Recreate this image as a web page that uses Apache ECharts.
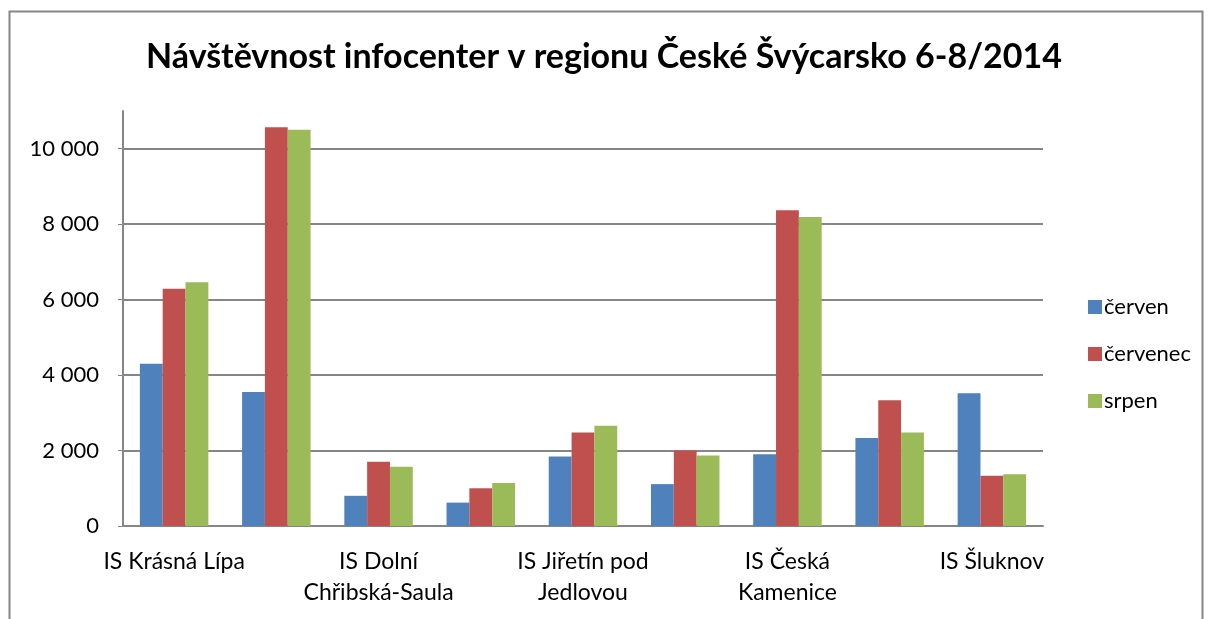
<!DOCTYPE html>
<html>
<head>
<meta charset="utf-8">
<script src="https://cdn.jsdelivr.net/npm/echarts@6/dist/echarts.min.js"></script>
<style>
  html, body { margin: 0; padding: 0; background: #fff; }
  #chart { width: 1208px; height: 619px; }
</style>
</head>
<body>
<div id="chart"></div>
<script>
// data
var categories = ['IS Krásná Lípa', 'IS Hřensko', 'IS Dolní Chřibská-Saula', 'IS Jetřichovice',
                  'IS Jiřetín pod Jedlovou', 'IS Rumburk', 'IS Česká Kamenice', 'IS Mikulášovice', 'IS Šluknov'];
var cerven   = [4300, 3550, 800, 620, 1840, 1110, 1900, 2330, 3520];
var cervenec = [6290, 10570, 1700, 1000, 2480, 2000, 8370, 3330, 1330];
var srpen    = [6460, 10500, 1570, 1140, 2660, 1870, 8190, 2480, 1370];
var seriesNames = ['červen', 'červenec', 'srpen'];
var colors = ['#4F81BD', '#C0504D', '#9BBB59'];

var font = 'Lato, "Noto Sans", sans-serif';

function fmt(v) {
    return String(v).replace(/\B(?=(\d{3})+(?!\d))/g, ' ');
}

// greedy word wrap, like Excel does for long category names
function wrap(v) {
    var words = v.split(' ');
    var lines = [];
    var cur = '';
    for (var i = 0; i < words.length; i++) {
        var next = cur ? cur + ' ' + words[i] : words[i];
        if (next.length > 14 && cur) {
            lines.push(cur);
            cur = words[i];
        } else {
            cur = next;
        }
    }
    lines.push(cur);
    return lines.join('\n');
}

function getChart() {
    var values = [cerven, cervenec, srpen];
    var series = [];
    for (var i = 0; i < seriesNames.length; i++) {
        series.push({
            name: seriesNames[i],
            type: 'bar',
            data: values[i],
            barGap: '0%',
            barCategoryGap: '33%',
            itemStyle: { color: colors[i] }
        });
    }
    var option = {
        animation: false,
        color: colors,
        title: {
            text: 'Návštěvnost infocenter v regionu České Švýcarsko 6-8/2014',
            left: 'center',
            top: 35,
            textStyle: { fontFamily: font, fontSize: 34, fontWeight: 'bold', color: '#000' }
        },
        legend: {
            orient: 'vertical',
            left: 1083,
            top: 291,
            itemWidth: 14,
            itemHeight: 14,
            itemGap: 25,
            icon: 'rect',
            textStyle: { fontFamily: font, fontSize: 22, color: '#000', padding: [0, 0, 0, -3] },
            data: seriesNames
        },
        grid: { left: 123, right: 165, top: 111, bottom: 93, outerBoundsMode: 'none' },
        xAxis: {
            type: 'category',
            data: categories,
            axisLine: { lineStyle: { color: '#868686', width: 2 } },
            axisTick: { show: false },
            axisLabel: {
                interval: 1,
                margin: 20,
                lineHeight: 31,
                fontFamily: font,
                fontSize: 23,
                color: '#000',
                formatter: wrap
            }
        },
        yAxis: {
            type: 'value',
            min: 0,
            max: 11000,
            interval: 2000,
            axisLine: { show: true, lineStyle: { color: '#868686', width: 2 } },
            axisTick: { show: true, length: 5, lineStyle: { color: '#868686' } },
            axisLabel: {
                showMaxLabel: false,
                margin: 24,
                fontFamily: font,
                fontSize: 22,
                color: '#000',
                formatter: fmt
            },
            splitLine: {
                lineStyle: {
                    color: ['#868686', '#868686', '#868686', '#868686', '#868686', '#868686', 'rgba(0,0,0,0)'],
                    width: 2
                }
            }
        },
        graphic: [{
            type: 'rect',
            shape: { x: 9.5, y: 11.5, width: 1193, height: 640 },
            style: { fill: 'none', stroke: '#868686', lineWidth: 2 },
            silent: true
        }],
        series: series
    };
    return option;
}

var myChart = echarts.init(document.getElementById('chart'));
myChart.setOption(getChart());
</script>
</body>
</html>
